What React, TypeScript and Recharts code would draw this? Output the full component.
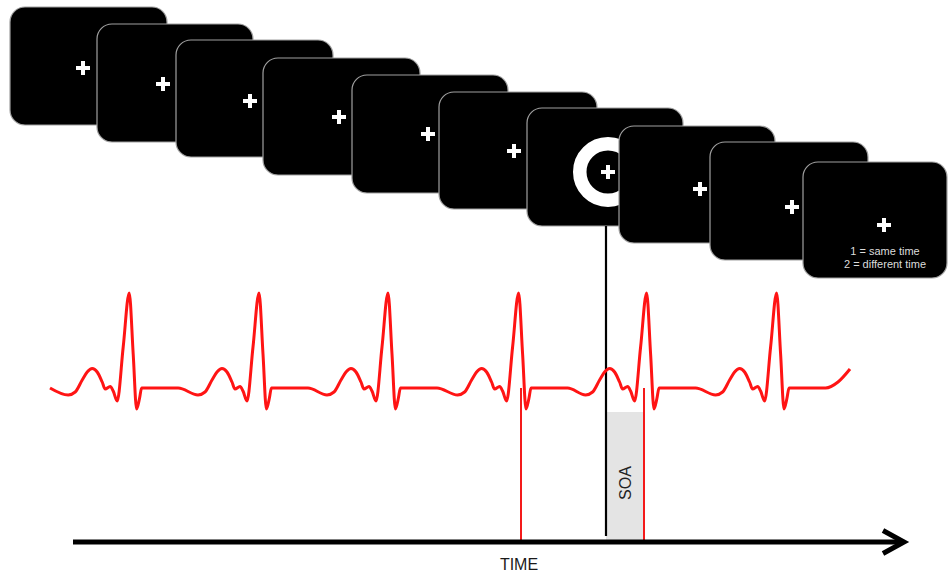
import { ComposedChart, Line, ReferenceArea, ReferenceDot, ReferenceLine, XAxis, YAxis } from 'recharts';

// time in ms, the deck axis stacks the display screens from top to bottom
const screenOnsetMs = [50, 485, 880, 1315, 1760, 2195, 2635, 3095, 3550, 4015];
const screenOffsetMs = [835, 1265, 1665, 2100, 2540, 2985, 3415, 3875, 4340, 4735];
const screenTop = [7, 24, 40, 58, 75, 92, 108, 126, 142, 162];
const screenBottom = [125, 142, 157, 175, 193, 209, 226, 243, 260, 278];
const fixationMs = [415, 815, 1250, 1695, 2140, 2570, 3040, 3500, 3960, 4420];
const fixationDepth = [68, 84, 101, 117, 134, 151, 172, 189, 207, 225];

// visual stimulus (ring) shown on the 7th screen
const stimulusScreen = 6;
const ringMs = [2865, 3215];
const ringDepth = [137, 207];

const responseLabels = ['1 = same time', '2 = different time'];
const responseMs = 4425;
const responseDepth = [255, 268];

// ECG: one beat template (offset from R peak, mV) placed on each R peak
const rPeakMs = [646, 1295, 1940, 2593, 3233, 3883];
const beatOffsetMs = [-305, -270, -235, -210, -185, -160, -135, -120, -95, -80, -60, -30, 0, 20, 37, 52, 62, 245];
const beatMv = [-0.07, -0.04, 0.08, 0.16, 0.195, 0.16, 0.06, -0.01, 0.015, -0.03, -0.13, 0.41, 0.95, 0.34, -0.21, -0.1, 0, 0];
const ecgStartMs = 250;
const ecgTailMs = [4190, 4250];
const ecgTailMv = [0.06, 0.19];

const heartbeatMarkersMs = [2605, 3220];
const stimulusMs = 3030;
const soaEndMs = 3220;
const timeAxisMs = [365, 4520];

const FONT = '"Liberation Sans", Arial, Helvetica, sans-serif';

const ecg = [
  { t: ecgStartMs, mv: 0 },
  ...rPeakMs.flatMap((r) => beatOffsetMs.map((dt, i) => ({ t: r + dt, mv: beatMv[i] }))),
  ...ecgTailMs.map((t, i) => ({ t, mv: ecgTailMv[i] })),
];

function Screen(p: any) {
  return (
    <rect x={p.x} y={p.y} width={p.width} height={p.height} rx={15} ry={15} fill="#000" stroke="#a0a0a0" strokeWidth={1.2} />
  );
}

function Cross({ cx, cy }: any) {
  return (
    <g fill="#fff">
      <rect x={cx - 7} y={cy - 2} width={14} height={4} />
      <rect x={cx - 2} y={cy - 7} width={4} height={14} />
    </g>
  );
}

function Ring(p: any) {
  const r = p.width / 2;
  return <circle cx={p.x + r} cy={p.y + p.height / 2} r={r - 6.75} fill="none" stroke="#fff" strokeWidth={13.5} />;
}

function TimeArrow({ x1, y1, x2, y2 }: any) {
  return (
    <g stroke="#000" strokeWidth={5} fill="none">
      <line x1={x1} y1={y1} x2={x2 - 2} y2={y2} />
      <polyline points={`${x2 - 21},${y2 - 11.5} ${x2},${y2} ${x2 - 21},${y2 + 11.5}`} strokeLinejoin="miter" />
    </g>
  );
}

export default function App() {
  return (
    <div style={{ width: 948, height: 573, background: '#fff' }}>
      <style>{'body{margin:0}'}</style>
      <ComposedChart width={948} height={573} data={ecg} margin={{ top: 0, right: 0, bottom: 0, left: 0 }}>
        <XAxis type="number" dataKey="t" domain={[0, 4740]} allowDataOverflow hide />
        <YAxis yAxisId="mv" type="number" domain={[-1.85, 3.88]} allowDataOverflow hide />
        <YAxis yAxisId="deck" type="number" domain={[0, 573]} reversed allowDataOverflow hide />

        {screenOnsetMs.map((on, i) => [
          <ReferenceArea
            key={`s${i}`}
            yAxisId="deck"
            x1={on}
            x2={screenOffsetMs[i]}
            y1={screenTop[i]}
            y2={screenBottom[i]}
            ifOverflow="visible"
            shape={Screen}
          />,
          i === stimulusScreen ? (
            <ReferenceArea
              key={`r${i}`}
              yAxisId="deck"
              x1={ringMs[0]}
              x2={ringMs[1]}
              y1={ringDepth[0]}
              y2={ringDepth[1]}
              ifOverflow="visible"
              shape={Ring}
            />
          ) : null,
        ])}
        {fixationMs.map((t, i) => (
          <ReferenceDot key={`f${i}`} yAxisId="deck" x={t} y={fixationDepth[i]} ifOverflow="visible" shape={Cross} />
        ))}
        {responseLabels.map((s, i) => (
          <ReferenceDot
            key={`l${i}`}
            yAxisId="deck"
            x={responseMs}
            y={responseDepth[i]}
            ifOverflow="visible"
            shape={({ cx, cy }: any) => (
              <text x={cx} y={cy} textAnchor="middle" fontFamily={FONT} fontSize={11} fill="#dcdcdc">
                {s}
              </text>
            )}
          />
        ))}

        <ReferenceArea yAxisId="mv" x1={stimulusMs} x2={soaEndMs} y1={-0.24} y2={-1.52} fill="#e4e4e4" fillOpacity={1} stroke="none" ifOverflow="visible" />
        <ReferenceLine
          yAxisId="mv"
          segment={[{ x: stimulusMs, y: 1.62 }, { x: stimulusMs, y: -1.48 }]}
          stroke="#000"
          strokeWidth={2.2}
          ifOverflow="visible"
        />
        {heartbeatMarkersMs.map((t) => (
          <ReferenceLine
            key={t}
            yAxisId="mv"
            segment={[{ x: t, y: 0 }, { x: t, y: -1.52 }]}
            stroke="#f41a1a"
            strokeWidth={2}
            ifOverflow="visible"
          />
        ))}
        <Line
          yAxisId="mv"
          type="monotone"
          dataKey="mv"
          stroke="#ff1414"
          strokeWidth={3}
          dot={false}
          activeDot={false}
          isAnimationActive={false}
        />
        <ReferenceLine
          yAxisId="mv"
          segment={[{ x: timeAxisMs[0], y: -1.54 }, { x: timeAxisMs[1], y: -1.54 }]}
          ifOverflow="visible"
          shape={TimeArrow}
        />
        <ReferenceDot
          yAxisId="mv"
          x={3125}
          y={-0.95}
          ifOverflow="visible"
          shape={({ cx, cy }: any) => (
            <text x={cx} y={cy} transform={`rotate(-90 ${cx} ${cy})`} textAnchor="middle" dominantBaseline="central" fontFamily={FONT} fontSize={16} fill="#222">
              SOA
            </text>
          )}
        />
        <ReferenceDot
          yAxisId="mv"
          x={2595}
          y={-1.82}
          ifOverflow="visible"
          shape={({ cx, cy }: any) => (
            <text x={cx} y={cy} textAnchor="middle" fontFamily={FONT} fontSize={16} fill="#1a1a1a">
              TIME
            </text>
          )}
        />
      </ComposedChart>
    </div>
  );
}
